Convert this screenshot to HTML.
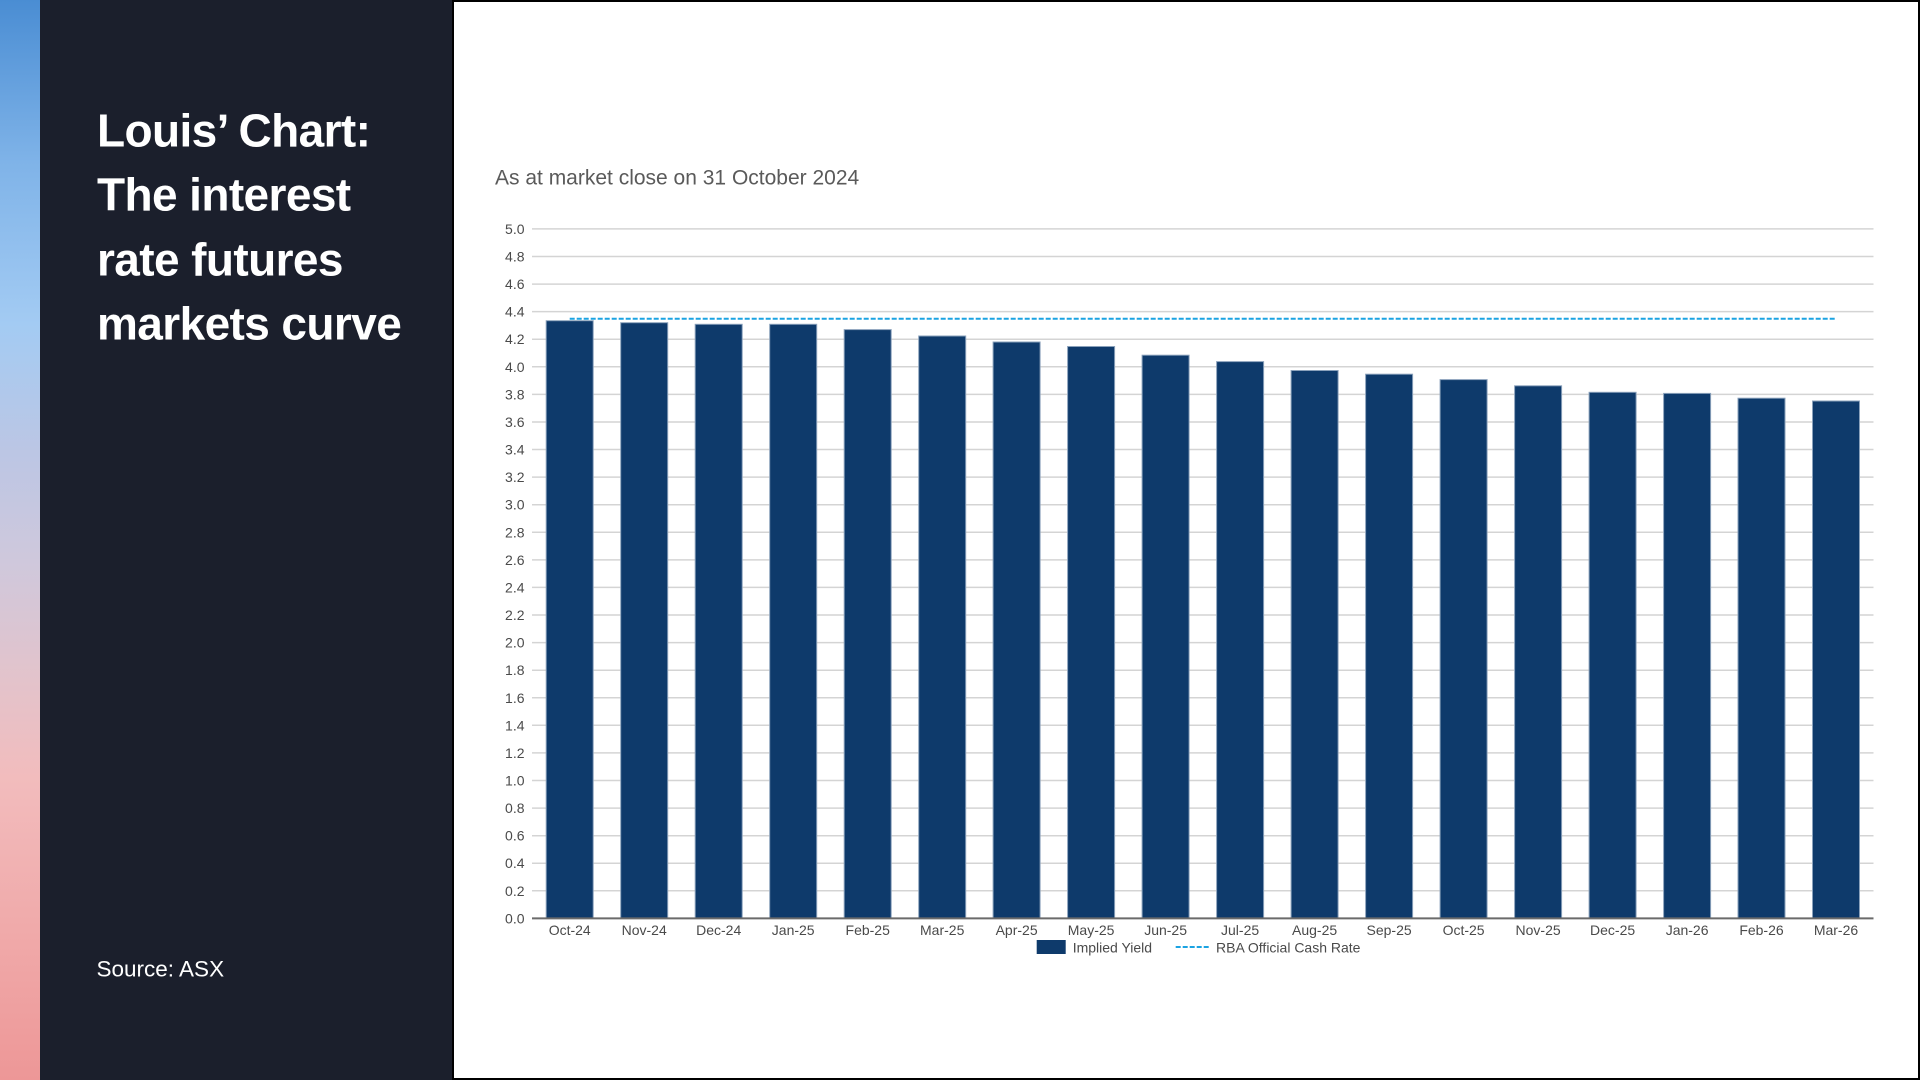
<!DOCTYPE html>
<html>
<head>
<meta charset="utf-8">
<style>
  html,body{margin:0;padding:0;}
  body{width:1920px;height:1080px;position:relative;overflow:hidden;background:#1b1f2c;}
  #strip{position:absolute;left:0;top:0;width:40px;height:1080px;
    background:linear-gradient(to bottom,#4a8dd3 0%,#7fb3e8 15%,#a3cbf3 30%,#bcc6e4 42%,#cfc8dc 52%,#e3c3cb 63%,#f2bcbd 72%,#f0aaaa 86%,#ed9797 100%);}
  #dark{position:absolute;left:40px;top:0;width:413px;height:1080px;background:#1b1f2c;}
  #white{position:absolute;left:452px;top:0;width:1468px;height:1080px;background:#fff;border:2px solid #000;box-sizing:border-box;}
  svg{position:absolute;left:0;top:0;}
</style>
</head>
<body>
<div id="strip"></div>
<div id="dark"></div>
<div id="white"></div>
<svg width="1920" height="1080" viewBox="0 0 1920 1080" xmlns="http://www.w3.org/2000/svg">
  <!-- Title -->
  <g font-family="Liberation Sans, sans-serif" font-weight="bold" font-size="46" fill="#ffffff" letter-spacing="-0.6">
    <text x="97" y="146.7">Louis’ Chart:</text>
    <text x="97" y="210.7">The interest</text>
    <text x="97" y="275.3">rate futures</text>
    <text x="97" y="339.5">markets curve</text>
  </g>
  <text x="96.5" y="976.7" font-family="Liberation Sans, sans-serif" font-size="22.5" fill="#ffffff">Source: ASX</text>

  <!-- Subtitle -->
  <text x="495" y="184.7" font-family="Liberation Sans, sans-serif" font-size="21" fill="#5a5a5a">As at market close on 31 October 2024</text>

  <!-- Gridlines -->
  <g stroke="#d4d4d4" stroke-width="1.5">
    <line x1="532" x2="1873.5" y1="890.8" y2="890.8"/>
    <line x1="532" x2="1873.5" y1="863.2" y2="863.2"/>
    <line x1="532" x2="1873.5" y1="835.7" y2="835.7"/>
    <line x1="532" x2="1873.5" y1="808.1" y2="808.1"/>
    <line x1="532" x2="1873.5" y1="780.5" y2="780.5"/>
    <line x1="532" x2="1873.5" y1="752.9" y2="752.9"/>
    <line x1="532" x2="1873.5" y1="725.3" y2="725.3"/>
    <line x1="532" x2="1873.5" y1="697.8" y2="697.8"/>
    <line x1="532" x2="1873.5" y1="670.2" y2="670.2"/>
    <line x1="532" x2="1873.5" y1="642.6" y2="642.6"/>
    <line x1="532" x2="1873.5" y1="615.0" y2="615.0"/>
    <line x1="532" x2="1873.5" y1="587.4" y2="587.4"/>
    <line x1="532" x2="1873.5" y1="559.9" y2="559.9"/>
    <line x1="532" x2="1873.5" y1="532.3" y2="532.3"/>
    <line x1="532" x2="1873.5" y1="504.7" y2="504.7"/>
    <line x1="532" x2="1873.5" y1="477.1" y2="477.1"/>
    <line x1="532" x2="1873.5" y1="449.5" y2="449.5"/>
    <line x1="532" x2="1873.5" y1="422.0" y2="422.0"/>
    <line x1="532" x2="1873.5" y1="394.4" y2="394.4"/>
    <line x1="532" x2="1873.5" y1="366.8" y2="366.8"/>
    <line x1="532" x2="1873.5" y1="339.2" y2="339.2"/>
    <line x1="532" x2="1873.5" y1="311.6" y2="311.6"/>
    <line x1="532" x2="1873.5" y1="284.1" y2="284.1"/>
    <line x1="532" x2="1873.5" y1="256.5" y2="256.5"/>
    <line x1="532" x2="1873.5" y1="228.9" y2="228.9"/>
  </g>

  <!-- Y labels -->
  <g font-family="Liberation Sans, sans-serif" font-size="14" fill="#4a4a4a" text-anchor="end">
    <text x="524.5" y="923.4">0.0</text>
    <text x="524.5" y="895.8">0.2</text>
    <text x="524.5" y="868.2">0.4</text>
    <text x="524.5" y="840.7">0.6</text>
    <text x="524.5" y="813.1">0.8</text>
    <text x="524.5" y="785.5">1.0</text>
    <text x="524.5" y="757.9">1.2</text>
    <text x="524.5" y="730.3">1.4</text>
    <text x="524.5" y="702.8">1.6</text>
    <text x="524.5" y="675.2">1.8</text>
    <text x="524.5" y="647.6">2.0</text>
    <text x="524.5" y="620.0">2.2</text>
    <text x="524.5" y="592.4">2.4</text>
    <text x="524.5" y="564.9">2.6</text>
    <text x="524.5" y="537.3">2.8</text>
    <text x="524.5" y="509.7">3.0</text>
    <text x="524.5" y="482.1">3.2</text>
    <text x="524.5" y="454.5">3.4</text>
    <text x="524.5" y="427.0">3.6</text>
    <text x="524.5" y="399.4">3.8</text>
    <text x="524.5" y="371.8">4.0</text>
    <text x="524.5" y="344.2">4.2</text>
    <text x="524.5" y="316.6">4.4</text>
    <text x="524.5" y="289.1">4.6</text>
    <text x="524.5" y="261.5">4.8</text>
    <text x="524.5" y="233.9">5.0</text>
  </g>

  <!-- Bars -->
  <g fill="#0e3a6b" stroke="#8aa1bb" stroke-width="1">
    <rect x="546.2" y="320.7" width="47" height="597.7"/>
    <rect x="620.7" y="322.7" width="47" height="595.7"/>
    <rect x="695.2" y="324.3" width="47" height="594.1"/>
    <rect x="769.7" y="324.3" width="47" height="594.1"/>
    <rect x="844.2" y="329.6" width="47" height="588.8"/>
    <rect x="918.7" y="336.0" width="47" height="582.4"/>
    <rect x="993.1" y="342.0" width="47" height="576.4"/>
    <rect x="1067.6" y="346.5" width="47" height="571.9"/>
    <rect x="1142.1" y="355.2" width="47" height="563.2"/>
    <rect x="1216.6" y="361.6" width="47" height="556.8"/>
    <rect x="1291.1" y="370.5" width="47" height="547.9"/>
    <rect x="1365.6" y="374.2" width="47" height="544.2"/>
    <rect x="1440.1" y="379.6" width="47" height="538.8"/>
    <rect x="1514.6" y="385.8" width="47" height="532.6"/>
    <rect x="1589.1" y="392.3" width="47" height="526.1"/>
    <rect x="1663.6" y="393.4" width="47" height="525.0"/>
    <rect x="1738.0" y="398.2" width="47" height="520.2"/>
    <rect x="1812.5" y="401.0" width="47" height="517.4"/>
  </g>

  <!-- RBA dashed line -->
  <line x1="569.7" x2="1836" y1="318.7" y2="318.7" stroke="#1ba3e2" stroke-width="2" stroke-dasharray="5 2"/>

  <!-- Axis baseline -->
  <line x1="532" x2="1873.5" y1="918.4" y2="918.4" stroke="#6b6b6b" stroke-width="2"/>

  <!-- X labels -->
  <g font-family="Liberation Sans, sans-serif" font-size="14" fill="#4a4a4a" text-anchor="middle">
    <text x="569.7" y="935">Oct-24</text>
    <text x="644.2" y="935">Nov-24</text>
    <text x="718.7" y="935">Dec-24</text>
    <text x="793.2" y="935">Jan-25</text>
    <text x="867.7" y="935">Feb-25</text>
    <text x="942.2" y="935">Mar-25</text>
    <text x="1016.6" y="935">Apr-25</text>
    <text x="1091.1" y="935">May-25</text>
    <text x="1165.6" y="935">Jun-25</text>
    <text x="1240.1" y="935">Jul-25</text>
    <text x="1314.6" y="935">Aug-25</text>
    <text x="1389.1" y="935">Sep-25</text>
    <text x="1463.6" y="935">Oct-25</text>
    <text x="1538.1" y="935">Nov-25</text>
    <text x="1612.6" y="935">Dec-25</text>
    <text x="1687.1" y="935">Jan-26</text>
    <text x="1761.5" y="935">Feb-26</text>
    <text x="1836.0" y="935">Mar-26</text>
  </g>

  <!-- Legend -->
  <rect x="1036.7" y="940" width="29" height="14" fill="#0e3a6b"/>
  <text x="1072.7" y="952.3" font-family="Liberation Sans, sans-serif" font-size="14" fill="#4a4a4a">Implied Yield</text>
  <line x1="1175.7" x2="1209" y1="947" y2="947" stroke="#1ba3e2" stroke-width="2" stroke-dasharray="5 2"/>
  <text x="1216" y="952.3" font-family="Liberation Sans, sans-serif" font-size="14" fill="#4a4a4a">RBA Official Cash Rate</text>
</svg>
</body>
</html>
